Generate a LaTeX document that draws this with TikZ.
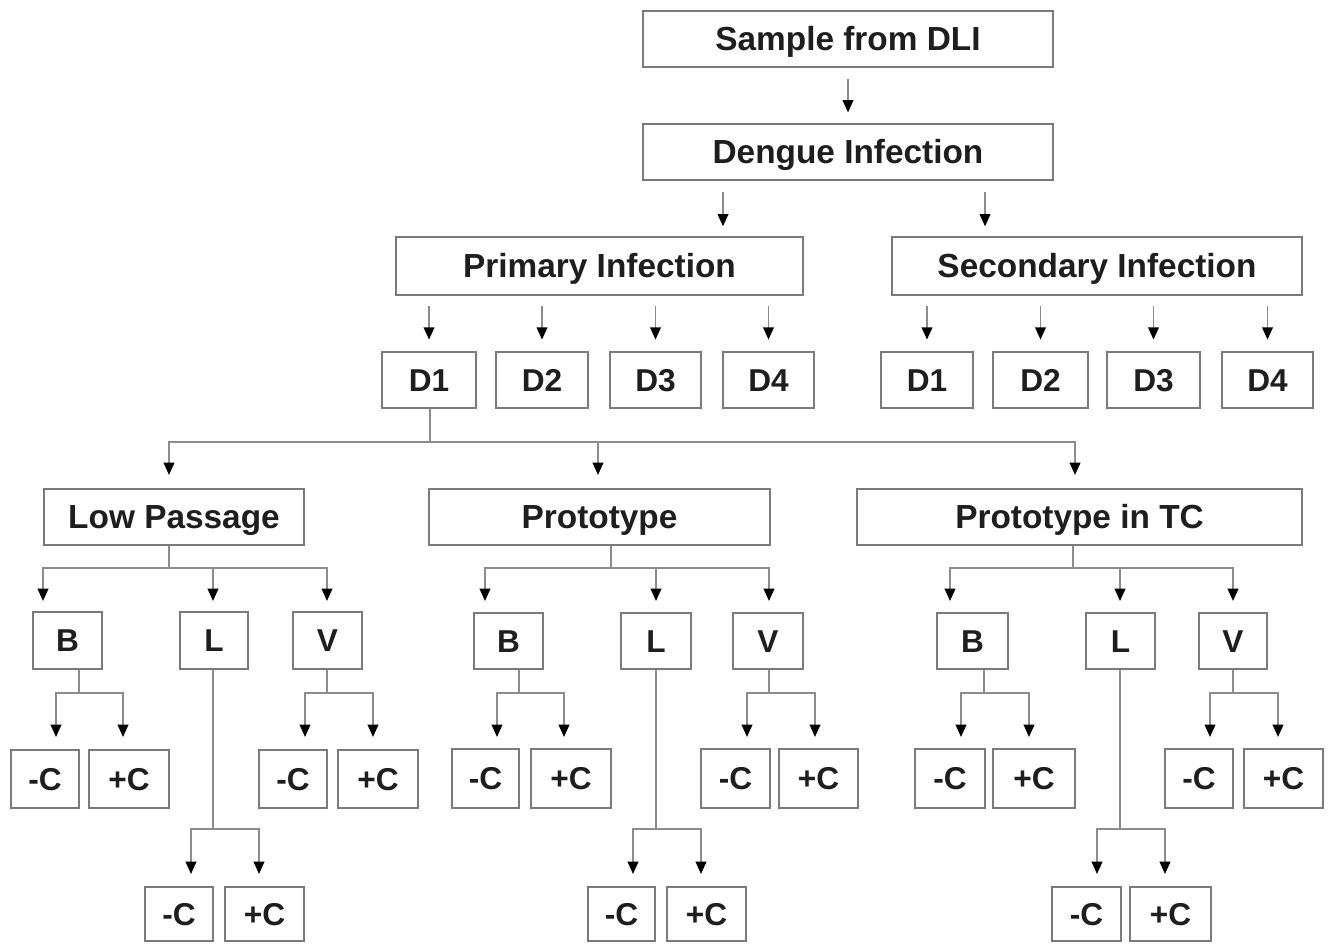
\documentclass[tikz,border=0pt]{standalone}
\usepackage{fontspec}
\setmainfont{Liberation Sans}
\usetikzlibrary{arrows.meta}
\definecolor{boxgray}{HTML}{7A7A7A}
\definecolor{linegray}{HTML}{8C8C8C}
\definecolor{txt}{HTML}{1E1E1E}
\tikzset{
  box/.style={draw=boxgray, line width=1.1pt, fill=white, inner sep=0pt, text=txt,
    text height=13.6pt, text depth=0pt,
    font=\bfseries\fontsize{19}{22}\selectfont},
  smallbox/.style={box, text height=12.9pt, font=\bfseries\fontsize{18}{21}\selectfont},
  ln/.style={draw=linegray, line width=1.1pt},
  arr/.style={ln, -{Triangle[length=7pt,width=6pt,color=black]}},
}
\newcommand\bx[7][box]{\node[#1, minimum width={(#5-#3)*0.02cm}, minimum height={(#6-#4)*0.02cm}] (#2) at ({(#3+#5)/2},{(#4+#6)/2}) {#7};}
% fork: #1 parent, #2 stem x, #3 junction y, #4 tip y, #5 list x/child
\newcommand\fork[5]{%
  \coordinate (#1-j) at (#2,#3);
  \draw[ln] (#1.south -| #1-j) -- (#1-j);
  \foreach \xx/\cc in {#5}{\coordinate (\cc-t) at (\xx,#4); \draw[arr] (#1-j) -| (\cc-t);}
}
\begin{document}
\begin{tikzpicture}[x=0.02cm,y=-0.02cm]
\useasboundingbox (0,0) rectangle (1334,944);
% top levels
\bx{sample}{643}{11}{1053}{67}{Sample from DLI}
\bx{dengue}{643}{124}{1053}{180}{Dengue Infection}
\bx{primary}{396}{237}{803}{295}{Primary Infection}
\bx{secondary}{892}{237}{1302}{295}{Secondary Infection}
\bx[smallbox]{p1}{382}{352}{476}{408}{D1}
\bx[smallbox]{p2}{496}{352}{588}{408}{D2}
\bx[smallbox]{p3}{610}{352}{701}{408}{D3}
\bx[smallbox]{p4}{723}{352}{814}{408}{D4}
\bx[smallbox]{s1}{881}{352}{973}{408}{D1}
\bx[smallbox]{s2}{993}{352}{1088}{408}{D2}
\bx[smallbox]{s3}{1107}{352}{1200}{408}{D3}
\bx[smallbox]{s4}{1222}{352}{1313}{408}{D4}
% second tree
\bx{low}{44}{489}{304}{545}{Low Passage}
\bx{proto}{429}{489}{770}{545}{Prototype}
\bx{tc}{857}{489}{1302}{545}{Prototype in TC}
\bx[smallbox]{lb}{33}{612}{102}{669}{B}
\bx[smallbox]{ll}{180}{612}{248}{669}{L}
\bx[smallbox]{lv}{293}{612}{362}{669}{V}
\bx[smallbox]{pb}{474}{613}{543}{669}{B}
\bx[smallbox]{pl}{621}{613}{691}{669}{L}
\bx[smallbox]{pv}{733}{613}{803}{669}{V}
\bx[smallbox]{tb}{937}{613}{1008}{669}{B}
\bx[smallbox]{tl}{1086}{613}{1155}{669}{L}
\bx[smallbox]{tv}{1199}{613}{1267}{669}{V}
\bx[smallbox]{lbm}{11}{750}{79}{808}{-C}
\bx[smallbox]{lbp}{89}{750}{169}{808}{+C}
\bx[smallbox]{lvm}{259}{750}{327}{808}{-C}
\bx[smallbox]{lvp}{338}{750}{418}{808}{+C}
\bx[smallbox]{llm}{145}{887}{213}{941}{-C}
\bx[smallbox]{llp}{225}{887}{304}{941}{+C}
\bx[smallbox]{pbm}{452}{749}{519}{808}{-C}
\bx[smallbox]{pbp}{531}{749}{611}{808}{+C}
\bx[smallbox]{pvm}{701}{749}{770}{808}{-C}
\bx[smallbox]{pvp}{779}{749}{858}{808}{+C}
\bx[smallbox]{plm}{588}{887}{655}{941}{-C}
\bx[smallbox]{plp}{667}{887}{746}{941}{+C}
\bx[smallbox]{tbm}{915}{749}{985}{808}{-C}
\bx[smallbox]{tbp}{993}{749}{1075}{808}{+C}
\bx[smallbox]{tvm}{1165}{749}{1233}{808}{-C}
\bx[smallbox]{tvp}{1244}{749}{1323}{808}{+C}
\bx[smallbox]{tlm}{1052}{887}{1121}{941}{-C}
\bx[smallbox]{tlp}{1130}{887}{1211}{941}{+C}
% floating arrows
\draw[arr, shorten <=6pt, shorten >=6pt] (sample.south) -- (dengue.north);
\coordinate (xa) at (723,0);
\coordinate (xb) at (985,0);
\draw[arr, shorten <=6.5pt, shorten >=5.5pt] (dengue.south -| xa) -- (primary.north -| xa);
\draw[arr, shorten <=6.5pt, shorten >=5.5pt] (dengue.south -| xb) -- (secondary.north -| xb);
\foreach \n in {p1,p2,p3,p4}{\draw[arr, shorten <=5.5pt, shorten >=6.5pt] (primary.south -| \n.north) -- (\n.north);}
\foreach \n in {s1,s2,s3,s4}{\draw[arr, shorten <=5.5pt, shorten >=6.5pt] (secondary.south -| \n.north) -- (\n.north);}
% forks
\fork{p1}{430}{442}{475}{169/low,598/proto,1075/tc}
\fork{low}{169}{568}{601}{43/lb,213/ll,327/lv}
\fork{proto}{611}{568}{601}{485/pb,656/pl,769/pv}
\fork{tc}{1073}{568}{601}{950/tb,1120/tl,1233/tv}
\fork{lb}{79}{693}{737}{56/lbm,123/lbp}
\fork{lv}{327}{693}{737}{305/lvm,373/lvp}
\fork{pb}{519}{693}{737}{497/pbm,564/pbp}
\fork{pv}{769}{693}{737}{747/pvm,815/pvp}
\fork{tb}{984}{693}{737}{961/tbm,1029/tbp}
\fork{tv}{1233}{693}{737}{1210/tvm,1278/tvp}
\fork{ll}{213}{829}{874}{191/llm,259/llp}
\fork{pl}{656}{829}{874}{633/plm,701/plp}
\fork{tl}{1120}{829}{874}{1097/tlm,1165/tlp}
\end{tikzpicture}
\end{document}
